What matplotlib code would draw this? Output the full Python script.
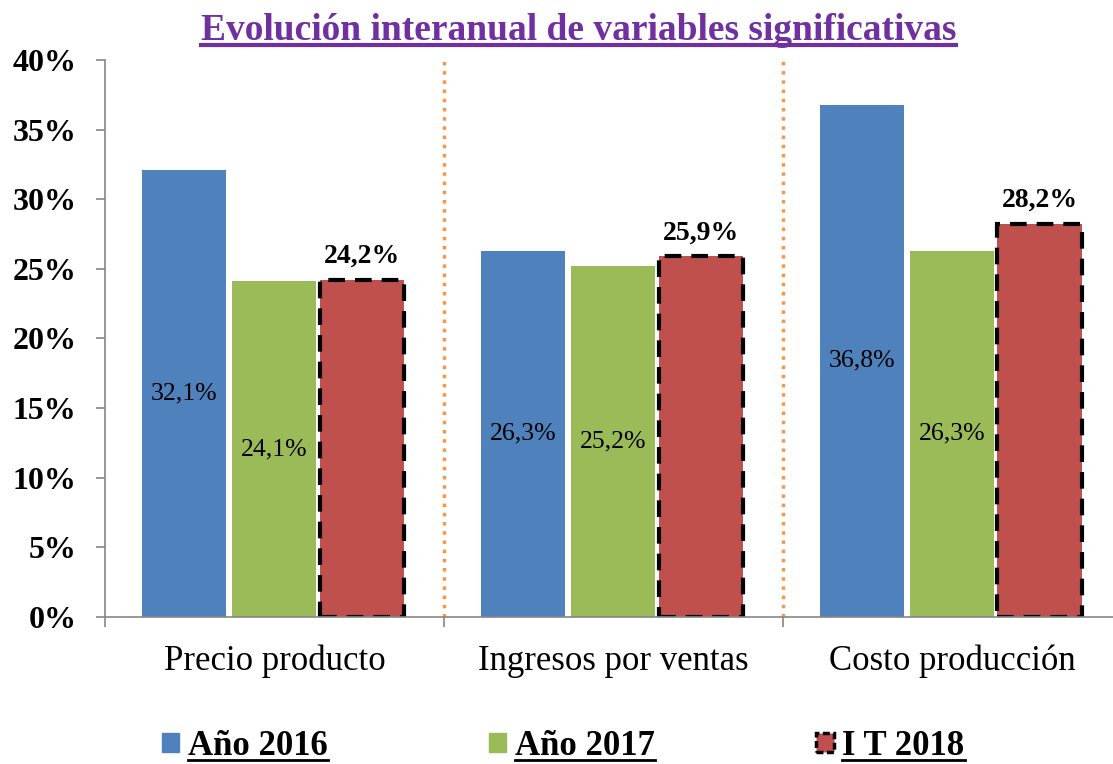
import numpy as np
import matplotlib
matplotlib.use('Agg')
import matplotlib.pyplot as plt
from matplotlib.patches import Patch
from matplotlib.lines import Line2D

categorias = ['Precio producto', 'Ingresos por ventas', 'Costo producción']
series = ['Año 2016', 'Año 2017', 'I T 2018']
anio_2016 = [32.1, 26.3, 36.8]
anio_2017 = [24.1, 25.2, 26.3]
it_2018 = [24.2, 25.9, 28.2]
yticks = [0, 5, 10, 15, 20, 25, 30, 35, 40]

azul = '#4F81BD'
verde = '#9BBB59'
rojo = '#C0504D'
morado = '#7030A0'
naranja = '#F79646'
gris = '#868686'

plt.rcParams['font.family'] = ['Liberation Serif', 'DejaVu Serif']

fig = plt.figure(figsize=(11.13, 7.64), dpi=100)
ax = fig.add_axes([0.0943, 0.1924, 1.008 - 0.0943, 0.9215 - 0.1924])

x = np.arange(len(categorias))
ancho = 0.248

b1 = ax.bar(x - 0.267, anio_2016, ancho, color=azul)
b2 = ax.bar(x, anio_2017, ancho, color=verde)
b3 = ax.bar(x + 0.257, it_2018, ancho, color=rojo, edgecolor='black',
            linewidth=3, linestyle=(0, (4, 2.4)))

# etiquetas de datos
for barras, vals in ((b1, anio_2016), (b2, anio_2017)):
    for b, v in zip(barras, vals):
        ax.text(b.get_x() + b.get_width() / 2, v / 2, f"{v:.1f}%".replace('.', ','),
                ha='center', va='center', fontsize=18.5)
for b, v in zip(b3, it_2018):
    ax.text(b.get_x() + b.get_width() / 2, v + 0.8, f"{v:.1f}%".replace('.', ','),
            ha='center', va='bottom', fontsize=20, fontweight='bold')

# separadores entre categorias
for xs in (0.5, 1.5):
    ax.axvline(xs, color=naranja, linestyle=':', linewidth=2.5, zorder=0)

ax.set_xlim(-0.5, 2.5)
ax.set_ylim(0, 40)
ax.set_yticks(yticks)
ax.set_yticklabels([f"{t}%" for t in yticks], fontsize=23, fontweight='bold')
ax.set_xticks(x)
ax.set_xticklabels(categorias, fontsize=25)
ax.set_xticks([-0.5, 0.5, 1.5, 2.5], minor=True)
ax.tick_params(axis='x', which='major', length=0, pad=20)
ax.tick_params(axis='x', which='minor', length=7, color=gris, width=1.2)
ax.tick_params(axis='y', length=6.5, color=gris, width=1.2, pad=14)

for lado in ('top', 'right'):
    ax.spines[lado].set_visible(False)
for lado in ('left', 'bottom'):
    ax.spines[lado].set_color(gris)
    ax.spines[lado].set_linewidth(1.2)

titulo = fig.text(0.5195, 0.96, 'Evolución interanual de variables significativas',
                  ha='center', va='center', fontsize=27, fontweight='bold', color=morado)

handles = [
    Patch(facecolor=azul, edgecolor=azul),
    Patch(facecolor=verde, edgecolor=verde),
    Patch(facecolor=rojo, edgecolor='black', linewidth=2.5, linestyle=(0, (2, 1))),
]
leg = fig.legend(handles, series, loc='center', bbox_to_anchor=(0.506, 0.023),
                 ncol=3, frameon=False, handlelength=0.5, handleheight=0.5,
                 handletextpad=0.25, columnspacing=4.65,
                 prop={'family': 'Liberation Serif', 'weight': 'bold', 'size': 25})

# subrayado del titulo y la leyenda
fig.canvas.draw()
r = fig.canvas.get_renderer()
inv = fig.transFigure.inverted()
for t, col, lw in [(titulo, morado, 3)] + [(tx, 'black', 2) for tx in leg.get_texts()]:
    bb = t.get_window_extent(r)
    (x0, y0), (x1, _) = inv.transform([(bb.x0, max(bb.y0 + 3, 2)), (bb.x1, bb.y0)])
    fig.add_artist(Line2D([x0, x1], [y0, y0], color=col, linewidth=lw,
                          transform=fig.transFigure))

fig.savefig('out.png', dpi=100)
